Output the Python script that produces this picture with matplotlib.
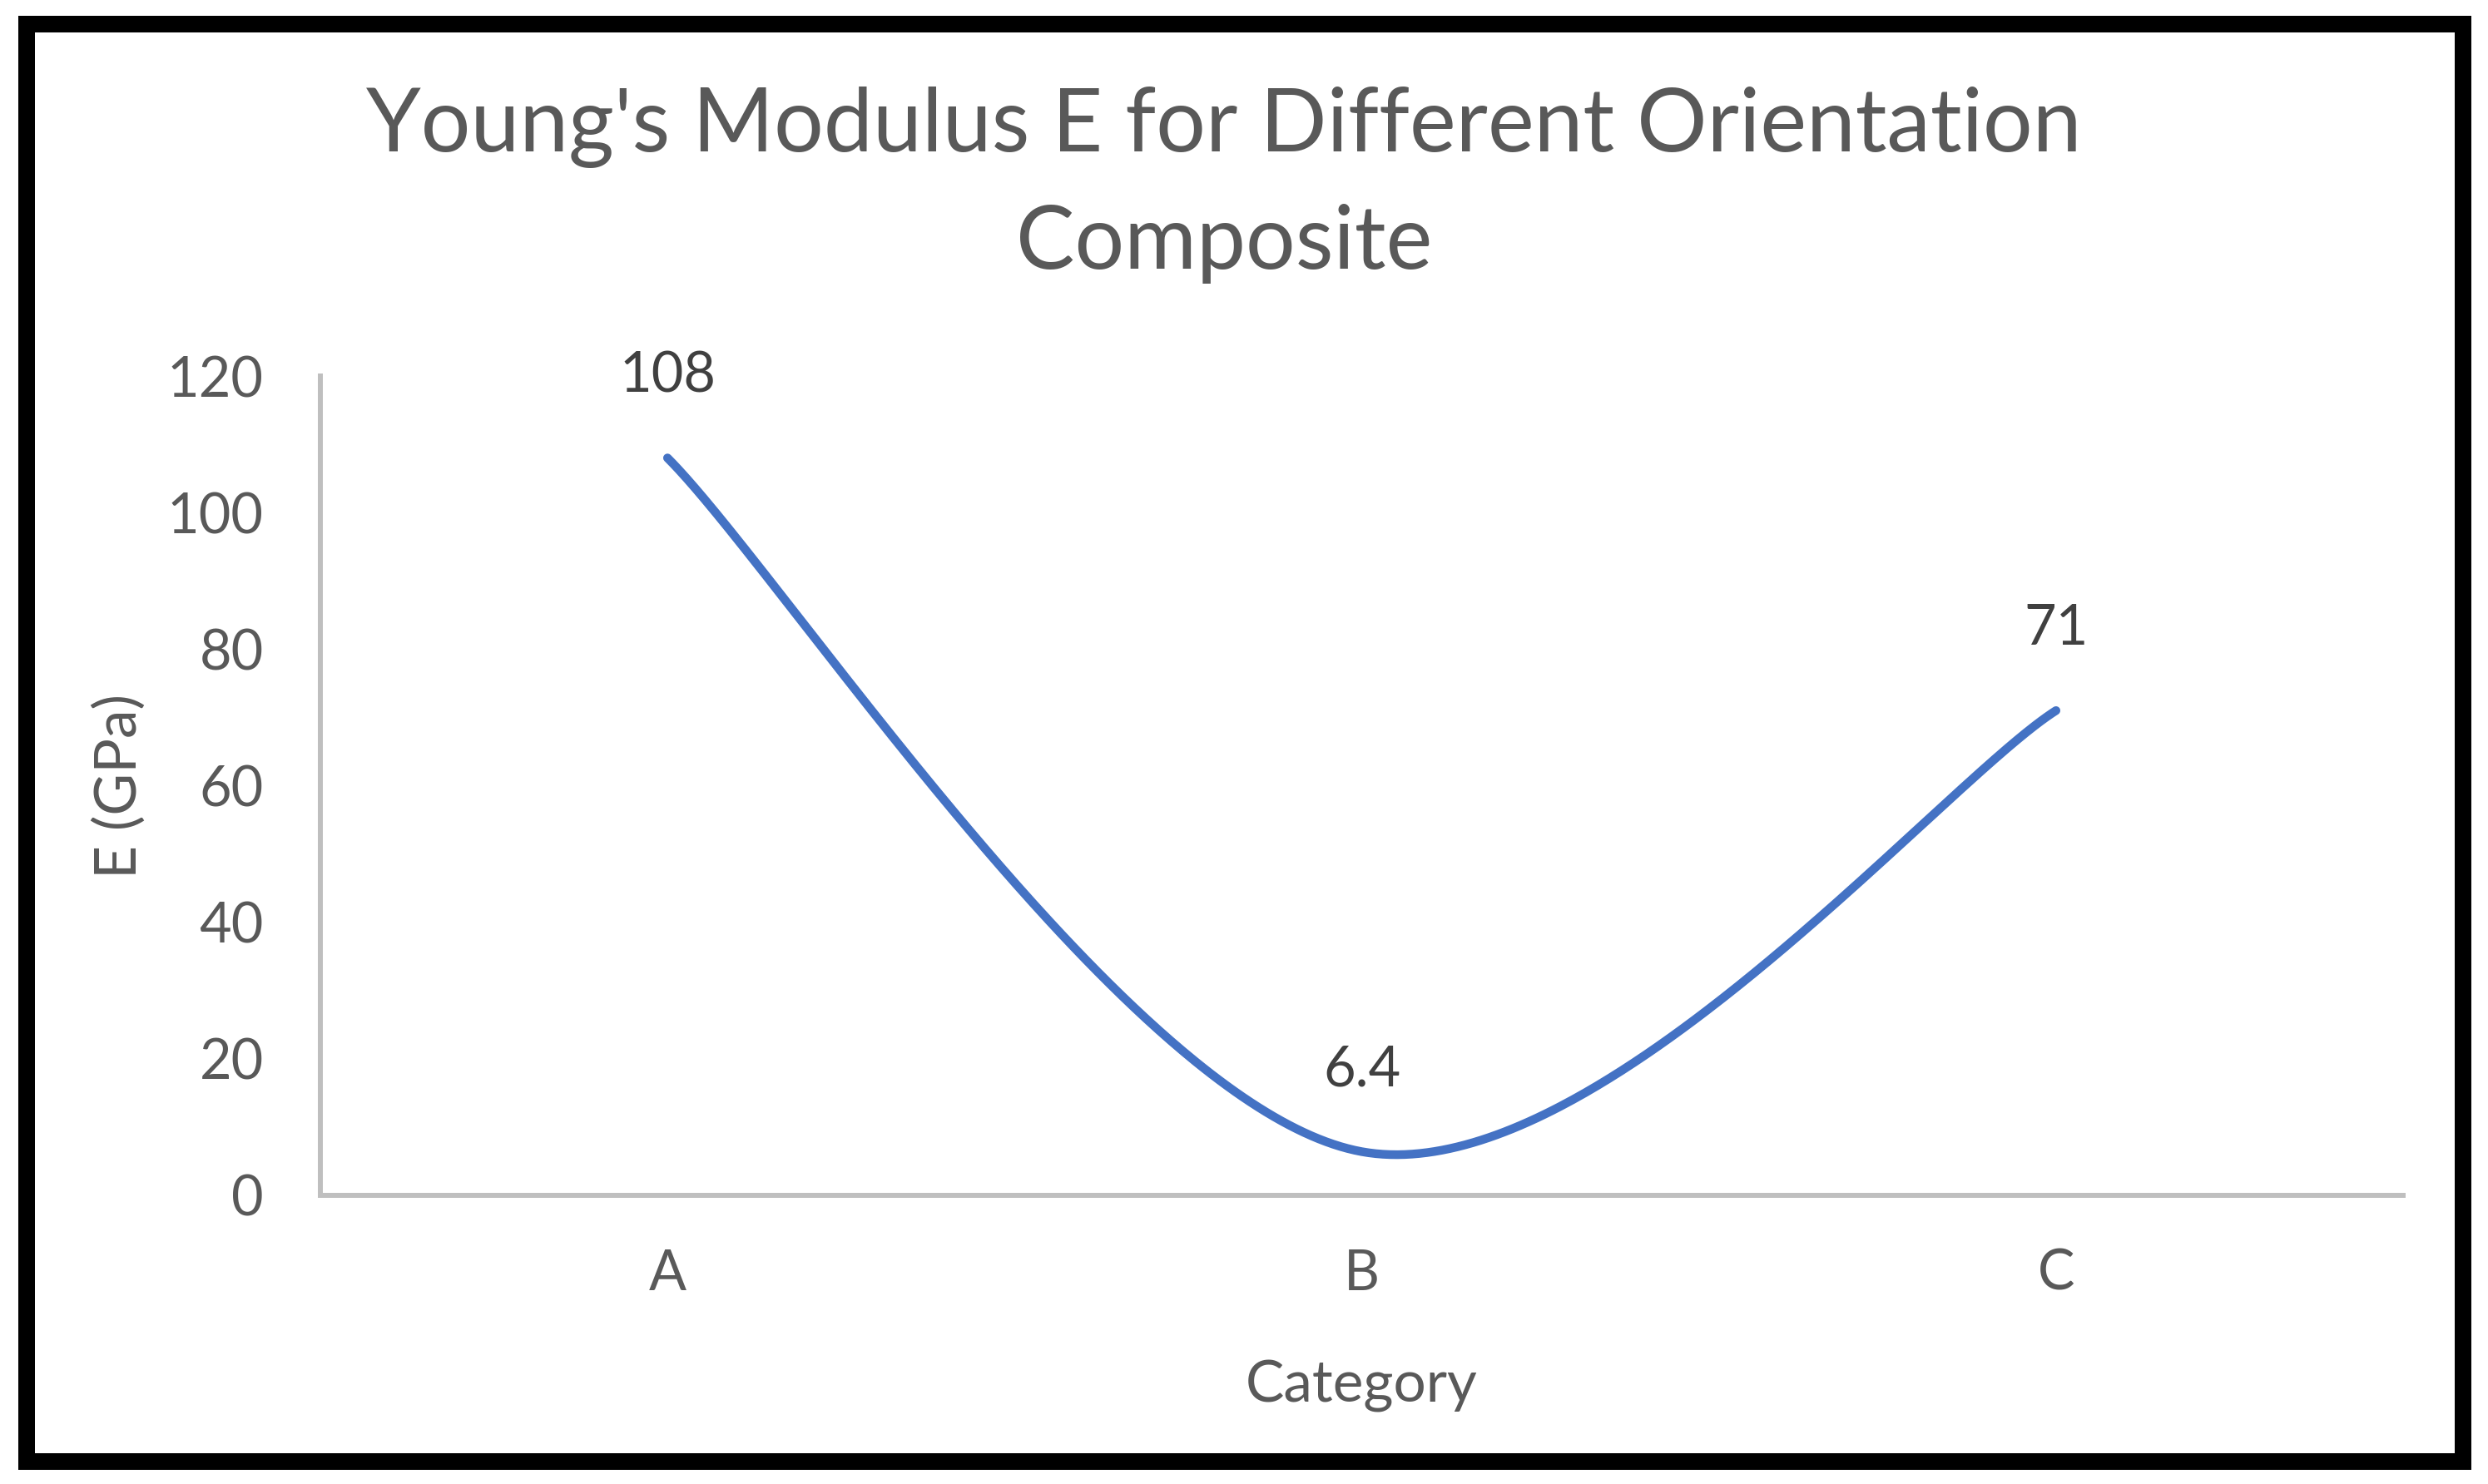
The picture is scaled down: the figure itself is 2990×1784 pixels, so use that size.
import numpy as np
import matplotlib
matplotlib.use("Agg")
from matplotlib import pyplot as plt
from matplotlib.patches import Rectangle

plt.rcParams['font.family'] = ['Lato', 'DejaVu Sans']

# chart data
categories = ["A", "B", "C"]
modulus = [108, 6.4, 71]
data_labels = ["108", "6.4", "71"]
y_ticks = [0, 20, 40, 60, 80, 100, 120]

title_lines = ["Young's Modulus E for Different Orientation", "Composite"]
x_title = "Category"
y_title = "E (GPa)"

TEXT_GREY = "#595959"
LABEL_GREY = "#404040"
LINE_BLUE = "#4472C4"
AXIS_GREY = "#BFBFBF"

W, H = 2990, 1784


def smooth_curve(xs, ys, n=200):
    # excel-like smoothed line: cubic bezier, catmull-rom control points
    pts = np.column_stack([xs, ys]).astype(float)
    padded = np.vstack([pts[0], pts, pts[-1]])
    segs = []
    t = np.linspace(0, 1, n)[:, None]
    for i in range(len(pts) - 1):
        p0, p1, p2, p3 = padded[i], padded[i + 1], padded[i + 2], padded[i + 3]
        c1 = p1 + (p2 - p0) / 6
        c2 = p2 - (p3 - p1) / 6
        segs.append((1 - t) ** 3 * p1 + 3 * (1 - t) ** 2 * t * c1
                    + 3 * (1 - t) * t ** 2 * c2 + t ** 3 * p2)
    out = np.vstack(segs)
    return out[:, 0], out[:, 1]


fig = plt.figure(figsize=(W / 100, H / 100), dpi=100)
fig.patch.set_facecolor("white")

# axes placed to match the plot area (pixels from top-left)
left, right, top, bottom = 385, 2888, 452, 1437
ax = fig.add_axes([left / W, 1 - bottom / H, (right - left) / W, (bottom - top) / H])

xpos = np.arange(len(categories))
sx, sy = smooth_curve(xpos, modulus)
ax.plot(sx, sy, color=LINE_BLUE, lw=7.5, solid_capstyle="round", zorder=3)

for x, y, lab in zip(xpos, modulus, data_labels):
    ax.annotate(lab, (x, y), xytext=(0, 57), textcoords="offset points",
                ha="center", va="baseline", fontsize=48, color=LABEL_GREY)

ax.set_xlim(-0.5, len(categories) - 0.5)
ax.set_ylim(0, 120)
ax.set_xticks(xpos)
ax.set_xticklabels(categories)
ax.set_yticks(y_ticks)
ax.tick_params(axis="both", length=0, labelsize=48, labelcolor=TEXT_GREY)
ax.tick_params(axis="y", pad=49)
ax.tick_params(axis="x", pad=46)

for s in ["top", "right"]:
    ax.spines[s].set_visible(False)
for s in ["left", "bottom"]:
    ax.spines[s].set_color(AXIS_GREY)
    ax.spines[s].set_linewidth(4.3)

ax.set_xlabel(x_title, fontsize=50, color=TEXT_GREY)
ax.xaxis.set_label_coords(0.5, -0.201)
ax.set_ylabel(y_title, fontsize=50, color=TEXT_GREY)
ax.yaxis.set_label_coords(-0.0835, 0.5)

fig.text(1471 / W, 1 - 182 / H, title_lines[0], ha="center", va="baseline",
         fontsize=76, color=TEXT_GREY)
fig.text(1471 / W, 1 - 323 / H, title_lines[1], ha="center", va="baseline",
         fontsize=76, color=TEXT_GREY)

# thick black frame round the chart
fig.patches.append(Rectangle((32 / W, 1 - 1757 / H), (2960 - 32) / W, (1757 - 29) / H,
                             transform=fig.transFigure, fill=False, lw=14.4,
                             edgecolor="black", joinstyle="miter"))

fig.savefig("out.png", dpi=100, facecolor="white")
